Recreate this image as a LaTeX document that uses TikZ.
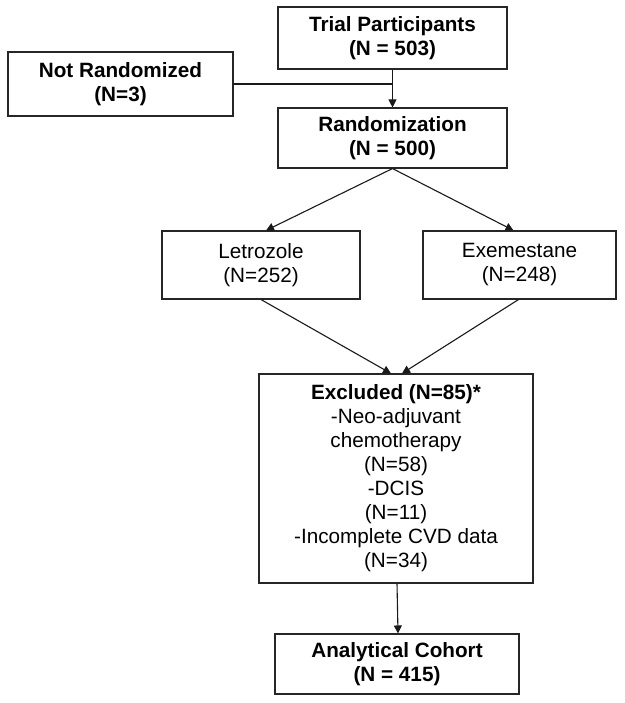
\documentclass[tikz,border=0pt]{standalone}
\usepackage{fontspec}
\setmainfont{Liberation Sans}
\usetikzlibrary{arrows.meta,calc}
\begin{document}
\begin{tikzpicture}[x=1pt,y=-1pt,
  box/.style={draw=black!85,line width=1.1pt,rectangle,align=center,inner sep=0pt,
    font=\fontsize{20.7}{24}\selectfont},
  bbox/.style={box,font=\fontsize{20.7}{24.5}\selectfont\bfseries},
  conn/.style={line width=1.1pt,draw=black!90},
  arr/.style={conn,-{Triangle[length=8pt,width=8pt]}}]
\useasboundingbox (0,0) rectangle (624,703);
\node[bbox,minimum width=229pt,minimum height=62pt] (trial) at (392.5,38) {Trial Participants\\(N = 503)};
\node[bbox,minimum width=225pt,minimum height=64pt] (notr) at (120.5,84) {Not Randomized\\(N=3)};
\node[bbox,minimum width=229pt,minimum height=60pt] (rand) at (392.5,138) {Randomization\\(N = 500)};
\node[box,minimum width=198pt,minimum height=68pt] (letro) at (261,265) {Letrozole\\(N=252)};
\node[box,minimum width=193pt,minimum height=68pt] (exem) at (519.5,265) {Exemestane\\(N=248)};
\node[box,minimum width=274pt,minimum height=209pt] (excl) at (396,478.5) {\textbf{Excluded (N=85)*}\\-Neo-adjuvant\\chemotherapy\\(N=58)\\-DCIS\\(N=11)\\-Incomplete CVD data\\(N=34)};
\node[bbox,minimum width=244pt,minimum height=60pt] (anal) at (397,664) {Analytical Cohort\\(N = 415)};
\coordinate (j) at (trial.south |- notr.east);
\draw[conn] (notr.east) -- (j);
\draw[arr] (trial.south) -- (rand.north);
\draw[arr] (rand.south) -- ($(letro.north)+(5,0)$);
\draw[arr] (rand.south) -- ($(exem.north)+(-6,0)$);
\draw[arr] (letro.south) -- ($(excl.north)+(-5,0)$);
\draw[arr] ($(exem.south)+(-1,0)$) -- ($(excl.north)+(6,0)$);
\draw[arr] ($(excl.south)+(1,0)$) -- ($(anal.north)+(1,0)$);
\end{tikzpicture}
\end{document}
